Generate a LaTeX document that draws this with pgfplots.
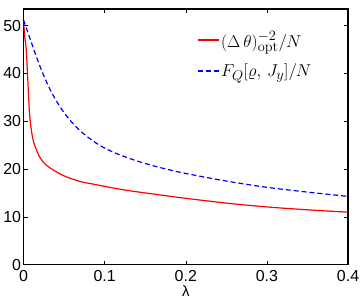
\documentclass[border=0pt]{standalone}
\usepackage[no-math]{fontspec}
\setmainfont{Liberation Sans}
\usepackage{pgfplots}
\pgfplotsset{compat=1.18}
\begin{document}
\begin{tikzpicture}
\begin{axis}[
  name=ax,
  scale only axis, width=326pt, height=257pt,
  xmin=0, xmax=0.4, ymin=0, ymax=53.5,
  xtick={0,0.1,0.2,0.3,0.4}, ytick={0,10,20,30,40,50},
  xticklabels={0,0.1,0.2,0.3,0.4},
  tick align=inside, tick pos=both,
  major tick length=4pt,
  axis line style={line width=1.2pt},
  tick style={black, line width=0.6pt},
  /pgf/number format/assume math mode=true,
  ticklabel style={font=\fontsize{16}{16}\selectfont},
  xticklabel style={yshift=-2pt},
  yticklabel style={xshift=1pt},
  xlabel={\fontsize{15}{15}\selectfont λ},
  xlabel style={yshift=3pt},
  legend style={draw=none, fill=none, at={(0.534,0.93)}, anchor=north west, font=\fontsize{19}{21}\selectfont, row sep=11pt, inner xsep=0pt},
  legend cell align=left,
  legend image code/.code={\draw[mark repeat=2,mark phase=2,#1] plot coordinates {(0pt,0pt) (10.5pt,0pt) (21pt,0pt)};},
]
\addplot[red, line width=1.2pt, smooth] coordinates {
(0,51.0) (0.0016,47.5) (0.0033,45.0) (0.0053,38.5) (0.0074,31.5) (0.0102,27.5) (0.0125,25.6) (0.0155,24.2) (0.019,22.8) (0.0237,21.6) (0.029,20.7) (0.036,19.9) (0.045,19.0) (0.054,18.3) (0.07,17.4) (0.085,16.9) (0.1,16.4) (0.13,15.5) (0.169,14.6) (0.2,13.9) (0.25,12.9) (0.3,12.1) (0.35,11.5) (0.4,11.0)
};
\addlegendentry{$(\Delta\,\theta)^{-2}_{\mathrm{opt}}/N$}
\addplot[blue, line width=1.2pt, dash pattern=on 5pt off 3pt, smooth] coordinates {
(0,51.2) (0.01,46.3) (0.02,41.6) (0.03,37.6) (0.04,34.4) (0.05,31.8) (0.06,29.7) (0.07,28.0) (0.08,26.6) (0.09,25.4) (0.1,24.4) (0.11,23.6) (0.12,22.9) (0.14,21.7) (0.16,20.7) (0.18,19.85) (0.2,19.1) (0.25,17.5) (0.3,16.2) (0.35,15.2) (0.4,14.3)
};
\addlegendentry{$F_Q[\varrho,\,J_y]/N$}
\end{axis}
\path (ax.north east) ++(15pt,9pt);
\end{tikzpicture}
\end{document}
